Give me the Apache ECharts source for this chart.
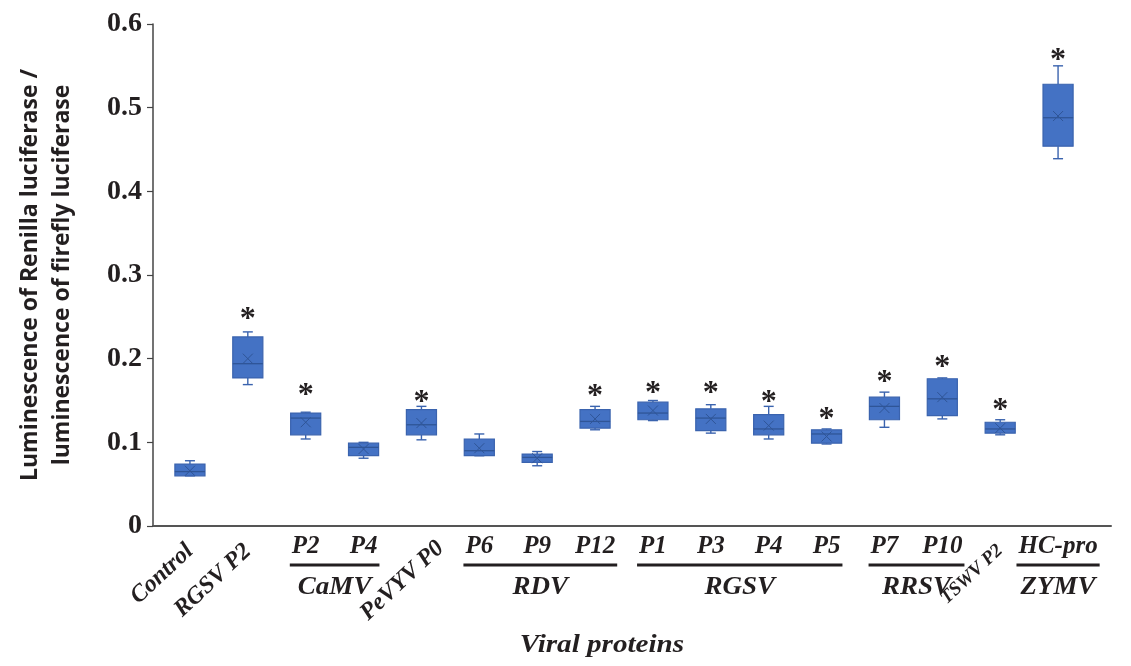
<!DOCTYPE html>
<html>
<head>
<meta charset="utf-8">
<script src="https://cdn.jsdelivr.net/npm/echarts@6/dist/echarts.min.js"></script>
<style>
html,body{margin:0;padding:0;background:#fff;}
#chart{width:1131px;height:666px;}
</style>
</head>
<body>
<div id="chart"></div>
<script>
// ---------- data ----------
var categories = ['Control','RGSV P2','CaMV P2','CaMV P4','PeVYV P0','RDV P6','RDV P9','RDV P12',
                  'RGSV P1','RGSV P3','RGSV P4','RGSV P5','RRSV P7','RRSV P10','TSWV P2','ZYMV HC-pro'];
var rotatedLabels = ['Control','RGSV P2','','','PeVYV P0','','','','','','','','','','TSWV P2',''];
var flatLabels    = ['','','P2','P4','','P6','P9','P12','P1','P3','P4','P5','P7','P10','','HC-pro'];
var whiskerLow  = [0.060,0.169,0.104,0.081,0.103,0.084,0.072,0.115,0.126,0.111,0.104,0.098,0.118,0.128,0.109,0.439];
var quartile1   = [0.060,0.177,0.109,0.084,0.109,0.084,0.076,0.117,0.127,0.114,0.109,0.099,0.127,0.132,0.111,0.454];
var medians     = [0.065,0.194,0.129,0.094,0.121,0.090,0.082,0.125,0.135,0.129,0.116,0.110,0.143,0.152,0.116,0.488];
var quartile3   = [0.074,0.226,0.135,0.099,0.139,0.104,0.086,0.139,0.148,0.140,0.133,0.115,0.154,0.176,0.124,0.528];
var whiskerHigh = [0.078,0.232,0.136,0.100,0.143,0.110,0.089,0.143,0.150,0.145,0.143,0.116,0.160,0.177,0.127,0.550];
var means       = [0.066,0.200,0.124,0.092,0.123,0.093,0.081,0.128,0.138,0.128,0.120,0.107,0.141,0.154,0.117,0.490];
var starLevels  = [null,0.255,0.164,null,0.156,null,null,0.163,0.166,0.166,0.156,0.135,0.180,0.198,0.146,0.564];
var groupNames  = ['CaMV','RDV','RGSV','RRSV','ZYMV'];
var groupStart  = [2,5,8,12,15];
var groupEnd    = [3,7,11,13,15];

// ---------- build ----------
var boxData = categories.map(function(c,i){
  return [i, whiskerLow[i], quartile1[i], medians[i], quartile3[i], whiskerHigh[i], means[i]];
});
var starData = [];
starLevels.forEach(function(v,i){ if(v!==null) starData.push([i,v]); });

var TXT = '#231f20';
var FILL = '#4472C4';
var EDGE = '#3a63ae';
var DARK = '#2f5597';
var SERIF = 'Liberation Serif';
// per-label text style keys for the slanted labels (layout only)
var rotStyleKey = {'Control':'a','RGSV P2':'a','PeVYV P0':'b','TSWV P2':'c'};

var chart = echarts.init(document.getElementById('chart'), null, {renderer:'canvas'});

function renderBox(params, api){
  var i = api.value(0);
  var band = api.size([1,0])[0];
  var bw = band*0.52, cw = 10;
  var pLo = api.coord([i, api.value(1)]);
  var pQ1 = api.coord([i, api.value(2)]);
  var pMd = api.coord([i, api.value(3)]);
  var pQ3 = api.coord([i, api.value(4)]);
  var pHi = api.coord([i, api.value(5)]);
  var pMn = api.coord([i, api.value(6)]);
  var x = pMd[0];
  var wl = {stroke:EDGE, lineWidth:1.4};
  var xs = 5;
  return {type:'group', children:[
    {type:'line', shape:{x1:x,y1:pHi[1],x2:x,y2:pQ3[1]}, style:wl},
    {type:'line', shape:{x1:x,y1:pLo[1],x2:x,y2:pQ1[1]}, style:wl},
    {type:'line', shape:{x1:x-cw/2,y1:pHi[1],x2:x+cw/2,y2:pHi[1]}, style:wl},
    {type:'line', shape:{x1:x-cw/2,y1:pLo[1],x2:x+cw/2,y2:pLo[1]}, style:wl},
    {type:'rect', shape:{x:x-bw/2,y:pQ3[1],width:bw,height:Math.max(pQ1[1]-pQ3[1],1)},
      style:{fill:FILL, stroke:EDGE, lineWidth:1.2}},
    {type:'line', shape:{x1:x-bw/2,y1:pMd[1],x2:x+bw/2,y2:pMd[1]}, style:{stroke:DARK,lineWidth:1.3}},
    {type:'line', shape:{x1:pMn[0]-xs,y1:pMn[1]-xs,x2:pMn[0]+xs,y2:pMn[1]+xs}, style:{stroke:DARK,lineWidth:1}},
    {type:'line', shape:{x1:pMn[0]-xs,y1:pMn[1]+xs,x2:pMn[0]+xs,y2:pMn[1]-xs}, style:{stroke:DARK,lineWidth:1}}
  ]};
}
function renderStar(params, api){
  var p = api.coord([api.value(0), api.value(1)]);
  return {type:'text', x:p[0], y:p[1]+7, style:{text:'*', fill:TXT, font:'bold 32px "' + SERIF + '"',
    align:'center', verticalAlign:'middle'}};
}
function rt(size, padding){
  return {fontFamily:SERIF, fontWeight:'bold', fontStyle:'italic', fontSize:size, color:TXT, padding:padding};
}

var option = {
  animation:false,
  backgroundColor:'#fff',
  grid:[
    {left:161, right:44, top:24, bottom:140},
    {left:153, right:20, top:24, bottom:140}
  ],
  xAxis:[
    {type:'category', gridIndex:0, data:categories, position:'bottom',
      axisLine:{show:false}, axisTick:{show:false}, splitLine:{show:false},
      axisLabel:{interval:0, rotate:43, margin:22,
        fontFamily:SERIF, fontWeight:'bold', fontStyle:'italic', fontSize:24, color:TXT,
        formatter:function(v,i){
          var t = rotatedLabels[i];
          return t ? '{' + rotStyleKey[t] + '|' + t + '}' : '';
        },
        rich:{a:rt(24,[0,0,0,0]), b:rt(24,[22,-16,0,0]), c:rt(19,[0,0,0,0])}}},
    {type:'category', gridIndex:0, data:categories, position:'bottom',
      axisLine:{show:false}, axisTick:{show:false}, splitLine:{show:false},
      axisLabel:{interval:0, rotate:0, margin:8,
        fontFamily:SERIF, fontWeight:'bold', fontStyle:'italic', fontSize:25, color:TXT,
        formatter:function(v,i){return flatLabels[i];}}},
    {type:'value', gridIndex:1, min:0, max:1, position:'bottom',
      axisLine:{show:true, lineStyle:{color:'#555', width:2}}, axisTick:{show:false},
      axisLabel:{show:false}, splitLine:{show:false}}
  ],
  yAxis:[
    {type:'value', gridIndex:0, min:0, max:0.6, interval:0.1, show:false, splitLine:{show:false}},
    {type:'value', gridIndex:1, min:0, max:0.6, interval:0.1,
      axisLine:{show:true, lineStyle:{color:'#444', width:1.5}},
      axisTick:{show:true, inside:false, length:6, lineStyle:{color:'#444', width:1.2}},
      splitLine:{show:false},
      axisLabel:{margin:11, fontFamily:SERIF, fontWeight:'bold', fontSize:28, color:TXT,
        formatter:function(v){return String(Math.round(v*10)/10);}},
      name:'Luminescence of Renilla luciferase /\nluminescence of firefly luciferase',
      nameLocation:'middle', nameRotate:90, nameGap:75,
      nameTextStyle:{fontFamily:'Open Sans', fontWeight:'bold', fontSize:23, color:TXT, lineHeight:32}}
  ],
  series:[
    {type:'custom', xAxisIndex:0, yAxisIndex:0, data:boxData, renderItem:renderBox,
      encode:{x:0, y:[1,2,3,4,5,6]}, z:3},
    {type:'custom', xAxisIndex:0, yAxisIndex:0, data:starData, renderItem:renderStar,
      encode:{x:0, y:1}, z:4}
  ]
};
chart.setOption(option);

// group brackets under the flat labels, positioned from axis coordinates
var ctx = document.createElement('canvas').getContext('2d');
ctx.font = 'italic bold 25px "' + SERIF + '"';
var gfx = [];
var base = chart.convertToPixel({yAxisIndex:0}, 0);
for (var g=0; g<groupNames.length; g++){
  var s = groupStart[g], e = groupEnd[g];
  var xs = chart.convertToPixel({xAxisIndex:0}, s);
  var xe = chart.convertToPixel({xAxisIndex:0}, e);
  var x1 = xs - ctx.measureText(flatLabels[s]).width/2 - 2;
  var x2 = xe + ctx.measureText(flatLabels[e]).width/2 + 2;
  gfx.push({type:'line', shape:{x1:x1, y1:base+39, x2:x2, y2:base+39},
    style:{stroke:'#231f20', lineWidth:3}});
  gfx.push({type:'text', x:(x1+x2)/2, y:base+62, scaleX:1.08,
    style:{text:groupNames[g], fill:TXT, font:'italic bold 25px "' + SERIF + '"',
      align:'center', verticalAlign:'middle'}});
}
gfx.push({type:'text', x:602, y:645, scaleX:1.12,
  style:{text:'Viral proteins', fill:TXT, font:'italic bold 26px "' + SERIF + '"',
    align:'center', verticalAlign:'middle'}});
chart.setOption({graphic:gfx});
</script>
</body>
</html>
